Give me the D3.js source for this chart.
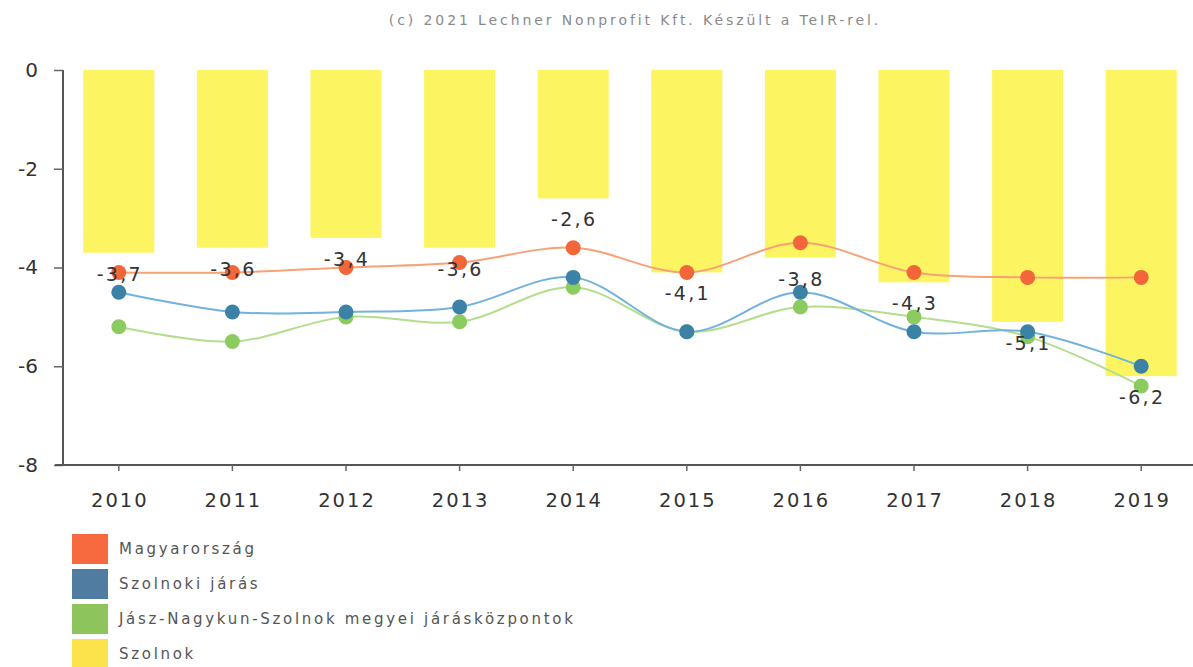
<!DOCTYPE html>
<html><head><meta charset="utf-8">
<script src="https://cdn.jsdelivr.net/npm/d3@7"></script>
<style>
html,body{margin:0;padding:0;background:#fff;}
svg{display:block;font-family:"DejaVu Sans",Verdana,sans-serif;}
</style></head>
<body><svg id="c" width="1193" height="667"></svg>
<script>
const years = ["2010","2011","2012","2013","2014","2015","2016","2017","2018","2019"];
const szolnok = [-3.7,-3.6,-3.4,-3.6,-2.6,-4.1,-3.8,-4.3,-5.1,-6.2];
const magyarorszag = [-4.1,-4.1,-4.0,-3.9,-3.6,-4.1,-3.5,-4.1,-4.2,-4.2];
const szolnokiJaras = [-4.5,-4.9,-4.9,-4.8,-4.2,-5.3,-4.5,-5.3,-5.3,-6.0];
const jnszJaraskozpontok = [-5.2,-5.5,-5.0,-5.1,-4.4,-5.3,-4.8,-5.0,-5.4,-6.4];
const yTicks = [0,-2,-4,-6,-8];
const seriesNames = ["Magyarország","Szolnoki járás","Jász-Nagykun-Szolnok megyei járásközpontok","Szolnok"];
const title = "(c) 2021 Lechner Nonprofit Kft. Készült a TeIR-rel.";

const svg = d3.select("#c");
const x = d3.scaleBand().domain(years).range([62,1198]).paddingInner(0).paddingOuter(0);
const y = d3.scaleLinear().domain([-8,0]).range([465,70]);
const barW = x.bandwidth()*0.625;
const cx = d => x(d)+x.bandwidth()/2;

// title
svg.append("text").attr("x",635).attr("y",25).attr("text-anchor","middle")
  .attr("fill","#8a8a8a").attr("font-size",14).attr("letter-spacing",2.9).text(title);

// bars
svg.append("g").selectAll("rect").data(years).join("rect")
  .attr("x",d=>cx(d)-barW/2).attr("width",barW)
  .attr("y",y(0)).attr("height",(d,i)=>y(szolnok[i])-y(0))
  .attr("fill","#fdf462");

// axes
const yAxis = svg.append("g").attr("transform","translate(63,0)")
  .call(d3.axisLeft(y).tickValues(yTicks).tickSize(9).tickFormat(d=>d===0?"0":String(d)));
yAxis.select(".domain").attr("stroke","#555").attr("stroke-width",2).attr("d","M0,"+y(0)+"V"+y(-8));
yAxis.selectAll(".tick line").attr("stroke","#666").attr("stroke-width",1.5);
yAxis.selectAll(".tick text").attr("font-size",20).attr("fill","#333").attr("x",-25)
  .attr("font-family","DejaVu Sans, Verdana, sans-serif");

const xAxis = svg.append("g").attr("transform","translate(0,"+y(-8)+")")
  .call(d3.axisBottom(x).tickSize(6).tickPadding(22));
xAxis.select(".domain").attr("stroke","#555").attr("stroke-width",2).attr("d","M55,0H1193");
xAxis.selectAll(".tick line").attr("stroke","#666").attr("stroke-width",1.5);
xAxis.selectAll(".tick text").attr("font-size",19.5).attr("fill","#333").attr("letter-spacing",2)
  .attr("font-family","DejaVu Sans, Verdana, sans-serif").attr("dx",1);

// lines
const lineSeries = [
  {vals:magyarorszag, line:"#f6a276", dot:"#f3663a"},
  {vals:szolnokiJaras, line:"#72b2dc", dot:"#3c82a6"},
  {vals:jnszJaraskozpontok, line:"#b3de8c", dot:"#8ccb5f"}
];
const lineGen = d3.line().x((d,i)=>cx(years[i])).y(d=>y(d)).curve(d3.curveCatmullRom.alpha(0.5));
lineSeries.slice().reverse().forEach(s=>{
  svg.append("path").attr("d",lineGen(s.vals)).attr("fill","none")
    .attr("stroke",s.line).attr("stroke-width",2);
});
lineSeries.slice().reverse().forEach(s=>{
  svg.append("g").selectAll("circle").data(s.vals).join("circle")
    .attr("cx",(d,i)=>cx(years[i])).attr("cy",d=>y(d)).attr("r",7.5).attr("fill",s.dot);
});

// bar labels
svg.append("g").selectAll("text").data(years).join("text")
  .attr("x",d=>cx(d)+1).attr("y",(d,i)=>y(szolnok[i])+28)
  .attr("text-anchor","middle").attr("font-size",19).attr("letter-spacing",2.3)
  .attr("fill","#333").text((d,i)=>String(szolnok[i]).replace(".",","));

// legend
const legColors = ["#f7693e","#4f7ca0","#8dc55c","#fce34c"];
const leg = svg.append("g");
seriesNames.forEach((n,i)=>{
  const yy = 534 + i*35;
  leg.append("rect").attr("x",72).attr("y",yy).attr("width",36).attr("height",30).attr("fill",legColors[i]);
  leg.append("text").attr("x",119).attr("y",yy+20).attr("font-size",15).attr("letter-spacing",2.7)
    .attr("fill","#555").text(n);
});
</script></body></html>
